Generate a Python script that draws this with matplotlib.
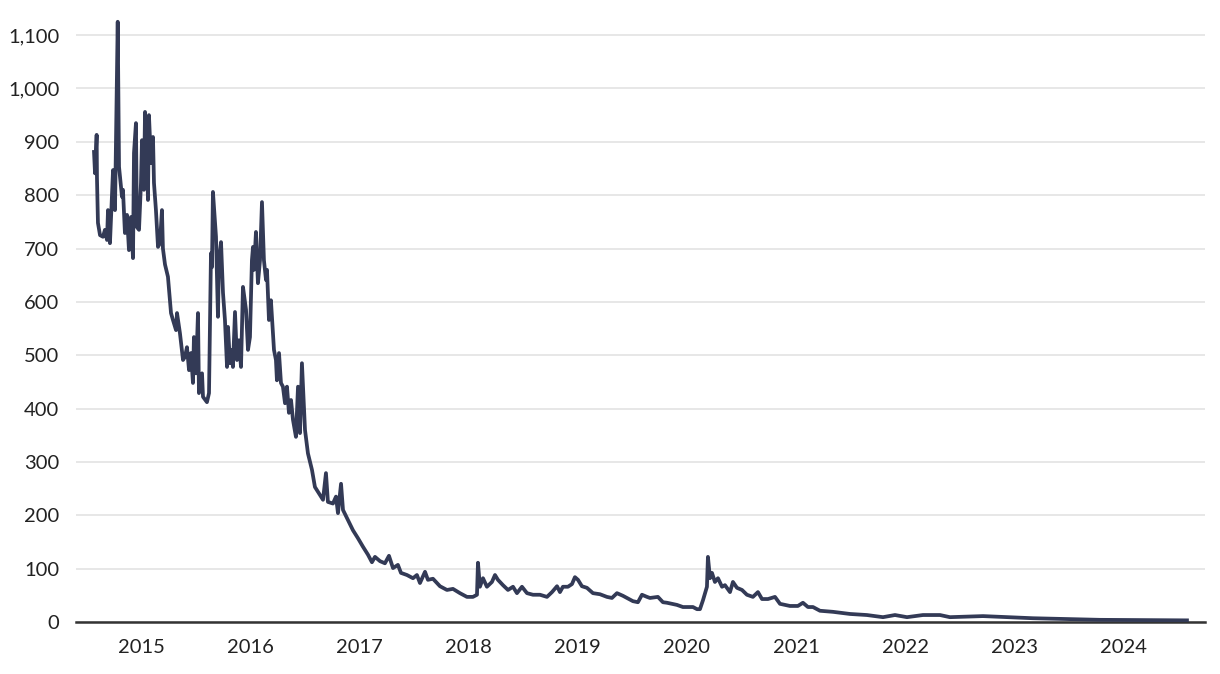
import matplotlib
matplotlib.use("Agg")
import matplotlib.pyplot as plt
import numpy as np

plt.rcParams['font.family'] = ['Lato', 'DejaVu Sans']

# time as decimal years
years = [
    2014.570, 2014.579, 2014.594, 2014.597, 2014.606, 2014.625, 2014.652, 2014.670,
    2014.689, 2014.698, 2014.716, 2014.744, 2014.762, 2014.787, 2014.799, 2014.826,
    2014.835, 2014.853, 2014.872, 2014.890, 2014.908, 2014.927, 2014.936, 2014.954,
    2014.963, 2014.982, 2015.000, 2015.009, 2015.027, 2015.037, 2015.055, 2015.064,
    2015.073, 2015.092, 2015.110, 2015.119, 2015.137, 2015.156, 2015.174, 2015.192,
    2015.201, 2015.220, 2015.247, 2015.275, 2015.293, 2015.321, 2015.330, 2015.357,
    2015.385, 2015.403, 2015.421, 2015.440, 2015.458, 2015.476, 2015.485, 2015.504,
    2015.522, 2015.531, 2015.559, 2015.568, 2015.604, 2015.623, 2015.641, 2015.650,
    2015.659, 2015.687, 2015.705, 2015.714, 2015.733, 2015.751, 2015.769, 2015.788,
    2015.797, 2015.815, 2015.833, 2015.842, 2015.861, 2015.879, 2015.897, 2015.916,
    2015.934, 2015.962, 2015.980, 2015.998, 2016.016, 2016.026, 2016.035, 2016.053,
    2016.071, 2016.090, 2016.108, 2016.126, 2016.145, 2016.154, 2016.172, 2016.190,
    2016.209, 2016.218, 2016.236, 2016.245, 2016.264, 2016.282, 2016.300, 2016.319,
    2016.337, 2016.355, 2016.374, 2016.392, 2016.419, 2016.438, 2016.456, 2016.474,
    2016.502, 2016.529, 2016.566, 2016.593, 2016.621, 2016.667, 2016.694, 2016.712,
    2016.758, 2016.786, 2016.804, 2016.832, 2016.850, 2016.896, 2016.941, 2016.987,
    2017.033, 2017.079, 2017.115, 2017.143, 2017.189, 2017.234, 2017.271, 2017.308,
    2017.353, 2017.381, 2017.436, 2017.491, 2017.527, 2017.555, 2017.601, 2017.628,
    2017.674, 2017.738, 2017.802, 2017.857, 2017.921, 2017.985, 2018.040, 2018.077,
    2018.086, 2018.104, 2018.132, 2018.168, 2018.214, 2018.242, 2018.269, 2018.315,
    2018.361, 2018.407, 2018.443, 2018.489, 2018.535, 2018.590, 2018.654, 2018.718,
    2018.764, 2018.810, 2018.837, 2018.864, 2018.910, 2018.947, 2018.974, 2019.002,
    2019.038, 2019.084, 2019.139, 2019.203, 2019.267, 2019.313, 2019.359, 2019.414,
    2019.505, 2019.551, 2019.588, 2019.634, 2019.661, 2019.734, 2019.780, 2019.817,
    2019.908, 2019.963, 2020.055, 2020.092, 2020.119, 2020.147, 2020.183, 2020.192,
    2020.211, 2020.229, 2020.256, 2020.284, 2020.321, 2020.348, 2020.394, 2020.421,
    2020.458, 2020.504, 2020.549, 2020.604, 2020.650, 2020.687, 2020.742, 2020.806,
    2020.852, 2020.943, 2021.016, 2021.062, 2021.108, 2021.154, 2021.218, 2021.337,
    2021.493, 2021.648, 2021.795, 2021.905, 2022.015, 2022.161, 2022.317, 2022.408,
    2022.711, 2023.168, 2023.782, 2024.579,
]
values = [
    881, 841, 913, 832, 748, 725, 722, 735,
    716, 772, 710, 847, 772, 1125, 853, 797,
    810, 729, 763, 697, 759, 682, 879, 935,
    740, 735, 823, 903, 810, 956, 866, 791,
    950, 860, 909, 823, 772, 703, 710, 772,
    700, 670, 647, 579, 566, 547, 579, 541,
    491, 497, 515, 472, 504, 448, 534, 466,
    579, 429, 466, 422, 412, 429, 691, 665,
    806, 722, 572, 678, 712, 617, 566, 478,
    553, 485, 510, 478, 581, 491, 528, 478,
    628, 585, 510, 534, 678, 703, 660, 731,
    635, 678, 787, 678, 641, 660, 566, 603,
    541, 510, 491, 453, 504, 448, 441, 410,
    441, 392, 416, 379, 347, 441, 354, 485,
    360, 316, 285, 253, 244, 229, 279, 225,
    222, 235, 204, 259, 210, 191, 172, 157,
    141, 126, 112, 122, 114, 110, 124, 101,
    107, 92, 88, 82, 88, 73, 94, 79,
    81, 67, 60, 62, 54, 47, 47, 51,
    111, 66, 82, 66, 75, 88, 79, 69,
    60, 66, 54, 66, 54, 51, 51, 47,
    56, 67, 56, 66, 66, 71, 84, 79,
    67, 64, 54, 52, 47, 45, 54, 49,
    39, 37, 51, 47, 45, 47, 37, 36,
    32, 28, 28, 24, 24, 41, 66, 122,
    82, 92, 75, 82, 66, 69, 56, 75,
    64, 60, 51, 47, 56, 43, 43, 47,
    34, 30, 30, 36, 28, 28, 21, 19,
    15, 13, 9, 13, 9, 13, 13, 9,
    11, 7, 4, 3,
]
tick_years = [2015, 2016, 2017, 2018, 2019, 2020, 2021, 2022, 2023, 2024]
y_ticks = [0, 100, 200, 300, 400, 500, 600, 700, 800, 900, 1000, 1100]

fig = plt.figure(figsize=(12.2, 6.74), dpi=100)
ax = fig.add_axes([0.0623, 0.0772, 0.9254, 0.9103])

ax.plot(years, values, color='#333a56', linewidth=2.7, solid_joinstyle='round', zorder=3)

ax.set_xlim(2014.405, 2024.744)
ax.set_ylim(0, 1150)
ax.set_yticks(y_ticks)
ax.set_yticklabels([f'{v:,}' for v in y_ticks])
ax.set_xticks(tick_years)
ax.set_xticklabels([str(y) for y in tick_years])

ax.grid(axis='y', color='#e3e3e3', linewidth=1.2)
ax.set_axisbelow(True)
for s in ['top', 'right', 'left']:
    ax.spines[s].set_visible(False)
ax.spines['bottom'].set_color('#333333')
ax.spines['bottom'].set_linewidth(1.8)
ax.tick_params(axis='both', length=0, labelsize=14.5, colors='#222222')
ax.tick_params(axis='y', pad=12)
ax.tick_params(axis='x', pad=12)

fig.savefig('out.png', dpi=100)
